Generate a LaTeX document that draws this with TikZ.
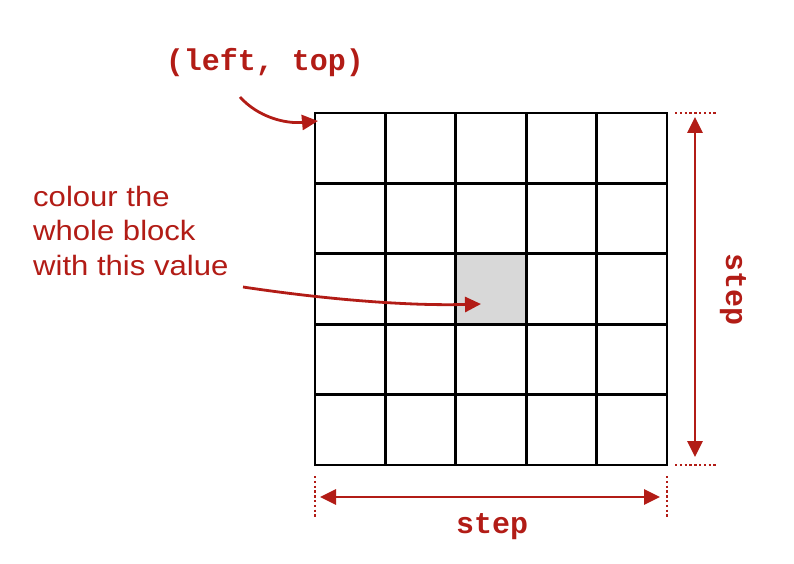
\documentclass[tikz,border=0pt]{standalone}
\usepackage{fontspec}
\setmainfont{Liberation Sans}
\newfontfamily\labfont[FakeStretch=1.11]{Liberation Sans}
\newfontfamily\monofont{Liberation Mono}
\usetikzlibrary{arrows.meta,calc}
\definecolor{dred}{RGB}{178,28,22}
\definecolor{cellgray}{RGB}{216,216,216}
\begin{document}
\begin{tikzpicture}[x=1pt,y=-1pt,
  cell/.style={draw=black, line width=2.9pt, minimum size=70.4pt, inner sep=0pt, outer sep=0pt},
  arr/.style={draw=dred, line width=2.8pt, -{Triangle[length=16pt,width=15pt]}},
  dblarr/.style={draw=dred, line width=2.8pt, {Triangle[length=16pt,width=15pt]}-{Triangle[length=16pt,width=15pt]}},
  dotln/.style={draw=dred, line width=2.2pt, dash pattern=on 2.4pt off 2.4pt},
  monolbl/.style={text=dred, font=\monofont\bfseries\fontsize{30}{32}\selectfont, inner sep=0pt},
  txtlbl/.style={text=dred, font=\labfont\fontsize{28}{34.5}\selectfont, inner sep=0pt, align=left}
]
\useasboundingbox (0,0) rectangle (794,564);
% grid of cells
\foreach \i in {0,...,4}{
  \foreach \j in {0,...,4}{
    \node[cell] (c-\i-\j) at ({315+35.2+70.4*\i},{113+35.2+70.4*\j}) {};
  }
}
\fill[cellgray] (c-2-2.north west) rectangle (c-2-2.south east);
\foreach \i in {0,...,4}{
  \foreach \j in {0,...,4}{
    \draw[line width=2.9pt] (c-\i-\j.north west) rectangle (c-\i-\j.south east);
  }
}
% top-left label
\node[monolbl] (lt) at (265,63) {(left, top)};
\coordinate (a1) at (240,97);
\draw[arr] (a1) .. controls (258,117) and (285,124) .. ([xshift=3pt,yshift=-8pt]c-0-0.north west);
% text label
\node[txtlbl, anchor=north west] (txt) at (33,186) {colour the\\whole block\\with this value};
\coordinate (a2) at (243,287);
\draw[arr] (a2) .. controls (330,300) and (410,306) .. ([xshift=-10pt,yshift=-15pt]c-2-2.center);
% vertical dimension
\draw[dotln] ([xshift=8pt]c-4-0.north east) -- ++(42,0) coordinate (vt);
\draw[dotln] ([xshift=8pt]c-4-4.south east) -- ++(42,0) coordinate (vb);
\coordinate (vt1) at (695,117);
\coordinate (vb1) at (695,457);
\draw[dblarr] (vt1) -- (vb1);
\node[monolbl, rotate=-90] (vs) at (733,290) {step};
% horizontal dimension
\draw[dotln] ([yshift=-11pt]c-0-4.south west) -- ++(0,41);
\draw[dotln] ([yshift=-11pt]c-4-4.south east) -- ++(0,41);
\coordinate (hl) at (320,497);
\coordinate (hr) at (660,497);
\draw[dblarr] (hl) -- (hr);
\node[monolbl] (hs) at (492,527) {step};
\end{tikzpicture}
\end{document}
